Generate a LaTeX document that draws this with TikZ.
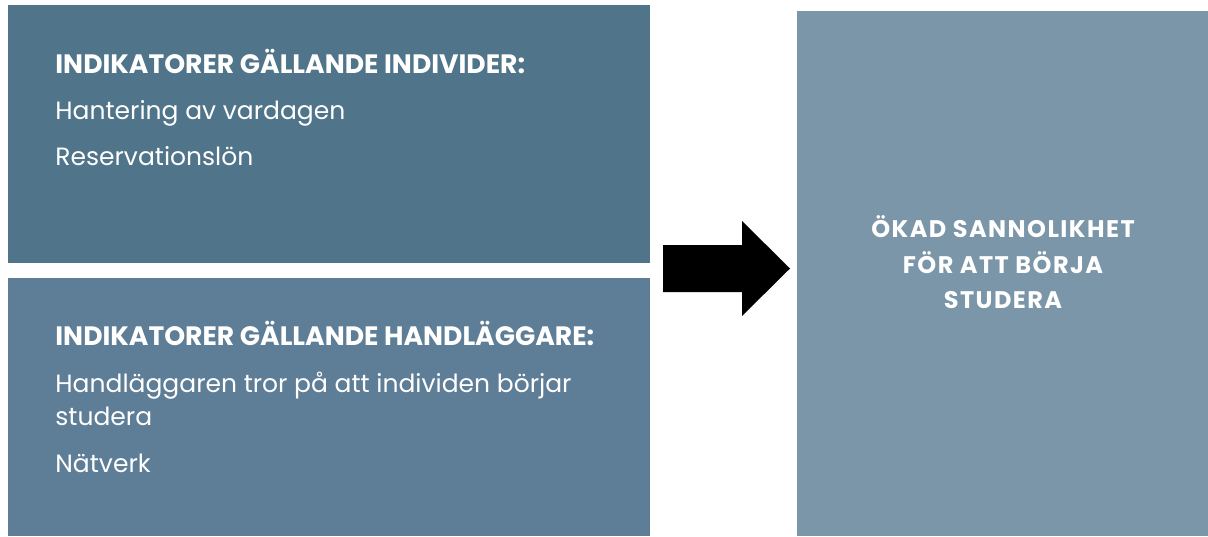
\documentclass[tikz,border=0pt]{standalone}
\usepackage{fontspec}
\setmainfont{Poppins}
\newfontfamily\utfallfont[LetterSpace=6]{Poppins}
\usetikzlibrary{positioning}

\definecolor{indivblue}{HTML}{507489}
\definecolor{handlblue}{HTML}{5E7D96}
\definecolor{utfallblue}{HTML}{7A96A8}

\begin{document}
\begin{tikzpicture}[x=0.5pt, y=-0.5pt,
		box/.style={rectangle, anchor=north west, inner sep=0pt, draw=none},
		rubrik/.style={anchor=base west, inner sep=0pt, text=white, font=\bfseries\fontsize{13.3}{15}\selectfont},
		punkt/.style={anchor=base west, inner sep=0pt, text=white, font=\fontsize{12.5}{14}\selectfont},
		utfall/.style={anchor=base, inner sep=0pt, text=white, font=\utfallfont\bfseries\fontsize{12}{14}\selectfont}]
		\useasboundingbox (0,0) rectangle (1208,536);
		
		\node[box, fill=indivblue, minimum width=321pt, minimum height=129pt] (indiv) at (8,5) {};
		\node[box, fill=handlblue, minimum width=321pt, minimum height=129pt] (handl) at (8,278) {};
		\node[box, fill=utfallblue, minimum width=205.5pt, minimum height=262.5pt] (utfall) at (797,11) {};
		
		\node[rubrik] (r1) at (55,73) {INDIKATORER GÄLLANDE INDIVIDER:};
		\node[punkt] (p1) at (55,119) {Hantering av vardagen};
		\node[punkt] (p2) at (55,165) {Reservationslön};
		
		\node[rubrik] (r2) at (55,345) {INDIKATORER GÄLLANDE HANDLÄGGARE:};
		\node[punkt] (p3) at (55,392) {Handläggaren tror på att individen börjar};
		\node[punkt] (p3b) at (55,425) {studera};
		\node[punkt] (p4) at (55,472) {Nätverk};
		
		\node[utfall] (u1) at (1003,237) {ÖKAD SANNOLIKHET};
		\node[utfall] (u2) at (1003,273) {FÖR ATT BÖRJA};
		\node[utfall] (u3) at (1003,308) {STUDERA};
		
		\fill[black] (663,245) -- (742,245) -- (742,221) -- (790,268.5)
			-- (742,316) -- (742,292) -- (663,292) -- cycle;
	\end{tikzpicture}
\end{document}
